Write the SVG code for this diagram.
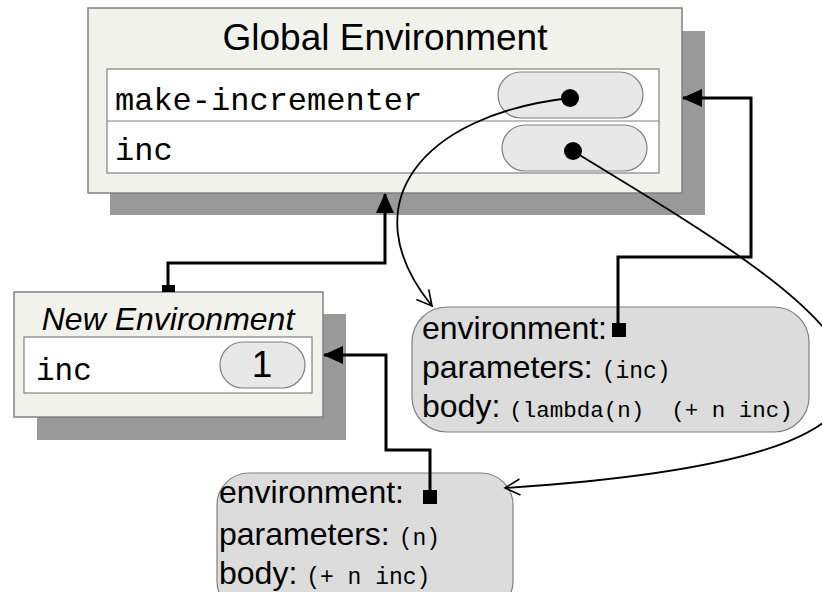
<svg xmlns="http://www.w3.org/2000/svg" width="822" height="592" viewBox="0 0 822 592">
<style>
.shadow{fill:#999999}
.env{fill:#f2f2ec;stroke:#808080;stroke-width:1.5}
.table{fill:#ffffff;stroke:#808080;stroke-width:1.2}
.pill{fill:#e8e8e8;stroke:#808080;stroke-width:1.2}
.proc{fill:#dcdcdc;stroke:#808080;stroke-width:1.2}
.title{font-family:"Liberation Sans",Arial,sans-serif;font-size:37px;fill:#000}
.mono{font-family:"Liberation Mono","Courier New",monospace;fill:#000}
.sans{font-family:"Liberation Sans",Arial,sans-serif;fill:#000}
.conn{fill:none;stroke:#000;stroke-width:3}
.curve{fill:none;stroke:#000;stroke-width:1.8}
</style>
<defs>
<marker id="tri" viewBox="0 0 20 20" refX="19" refY="10" markerWidth="20" markerHeight="20" markerUnits="userSpaceOnUse" orient="auto"><path d="M0,1 L20,10 L0,19 z" fill="#000"/></marker>
<marker id="open" viewBox="0 0 18 18" refX="16" refY="9" markerWidth="18" markerHeight="18" markerUnits="userSpaceOnUse" orient="auto"><path d="M1,1 L16,9 L1,17" fill="none" stroke="#000" stroke-width="1.6"/></marker>
</defs>

<g id="global-env">
<rect class="shadow" x="110" y="31" width="595" height="184"/>
<rect class="env" x="88" y="8" width="594" height="185"/>
<text class="title" x="385" y="50" text-anchor="middle">Global Environment</text>
<rect class="table" x="107" y="69" width="552" height="104"/>
<line x1="107" y1="121" x2="659" y2="121" stroke="#808080" stroke-width="1.2"/>
<text class="mono" x="115" y="110" font-size="32">make-incrementer</text>
<text class="mono" x="115" y="160" font-size="32">inc</text>
<rect class="pill" x="498" y="72" width="145" height="46" rx="23"/>
<rect class="pill" x="502" y="125" width="145" height="46" rx="23"/>
<circle cx="570" cy="98" r="9" fill="#000"/>
<circle cx="573" cy="151" r="9" fill="#000"/>
</g>

<g id="new-env">
<rect class="shadow" x="37" y="314" width="309" height="126"/>
<rect class="env" x="14" y="292" width="309" height="125"/>
<text class="sans" x="168" y="330" font-size="32" font-style="italic" text-anchor="middle">New Environment</text>
<rect class="table" x="24" y="337" width="288" height="56"/>
<text class="mono" x="36" y="380" font-size="31">inc</text>
<rect class="pill" x="220" y="342" width="85" height="46" rx="23"/>
<text class="sans" x="262" y="377" font-size="37" text-anchor="middle">1</text>
</g>

<g id="proc-make-incrementer">
<rect class="proc" x="412" y="307" width="397" height="125" rx="35"/>
<text class="sans" x="422" y="339" font-size="32">environment:</text>
<text class="sans" x="422" y="378" font-size="32">parameters: <tspan class="mono" font-size="23">(inc)</tspan></text>
<text class="sans" x="422" y="417" font-size="32" xml:space="preserve">body: <tspan class="mono" font-size="22.5">(lambda(n)  (+ n inc)</tspan></text>
<rect x="612" y="323" width="14" height="14" fill="#000"/>
</g>

<g id="proc-inc">
<rect class="proc" x="217" y="473" width="296" height="140" rx="32"/>
<text class="sans" x="219" y="503" font-size="32">environment:</text>
<text class="sans" x="219" y="545" font-size="32">parameters: <tspan class="mono" font-size="23">(n)</tspan></text>
<text class="sans" x="219" y="584" font-size="32">body: <tspan class="mono" font-size="23">(+ n inc)</tspan></text>
<rect x="423" y="490" width="14" height="14" fill="#000"/>
</g>

<g id="connectors">
<rect x="162" y="285" width="13" height="7" fill="#000"/>
<path class="conn" d="M168,286 V263 H385 V194" marker-end="url(#tri)"/>
<path class="conn" d="M618,325 V257 H751 V98 H683" marker-end="url(#tri)"/>
<path class="conn" d="M430,492 V450 H386 V355 H324" marker-end="url(#tri)"/>
<path class="curve" d="M570,98 C420,115 350,205 432,306" marker-end="url(#open)"/>
<path class="curve" d="M573,151 C800,290 1090,450 505,488" marker-end="url(#open)"/>
</g>
</svg>
